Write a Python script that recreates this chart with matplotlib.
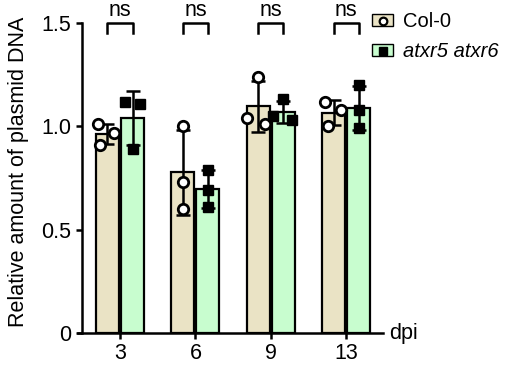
import matplotlib
matplotlib.use("Agg")
import matplotlib.pyplot as plt
import numpy as np
from matplotlib.patches import Patch
from matplotlib.lines import Line2D

# -------------------------------
# Data
# -------------------------------
days = ["3", "6", "9", "13"]
col0_points = [
    [1.01, 0.97, 0.91],
    [1.00, 0.73, 0.60],
    [1.24, 1.04, 1.01],
    [1.12, 1.08, 1.00],
]
atxr_points = [
    [1.12, 1.11, 0.89],
    [0.79, 0.69, 0.61],
    [1.13, 1.05, 1.03],
    [1.20, 1.08, 0.99],
]
# horizontal spread of the dots inside each bar (as in the figure)
col0_jitter = [[-0.12, 0.09, -0.10], [0, 0, 0], [0.0, -0.15, 0.09], [-0.11, 0.09, -0.07]]
atxr_jitter = [[-0.10, 0.10, 0.0], [0, 0, 0], [0.0, -0.14, 0.11], [0, 0, 0]]
sig_labels = ["ns", "ns", "ns", "ns"]

tan = "#EAE3C5"
green = "#C8FDCF"
FS = 15.5

plt.rcParams["font.family"] = ["Liberation Sans", "DejaVu Sans"]

fig = plt.figure(figsize=(5.11, 3.68), dpi=100)
ax = fig.add_axes([0.1526, 0.0951, 0.597, 0.8424])

x = np.arange(len(days))
off = 0.166
w = 0.305

col0_mean = [np.mean(p) for p in col0_points]
atxr_mean = [np.mean(p) for p in atxr_points]
col0_sd = [np.std(p, ddof=1) for p in col0_points]
atxr_sd = [np.std(p, ddof=1) for p in atxr_points]

ax.bar(x - off, col0_mean, w, color=tan, edgecolor="black", linewidth=1.6, zorder=1)
ax.bar(x + off, atxr_mean, w, color=green, edgecolor="black", linewidth=1.6, zorder=1)

ax.errorbar(x - off, col0_mean, yerr=col0_sd, fmt="none", ecolor="black",
            elinewidth=1.8, capsize=5, capthick=1.8, zorder=3)
ax.errorbar(x + off, atxr_mean, yerr=atxr_sd, fmt="none", ecolor="black",
            elinewidth=1.8, capsize=5, capthick=1.8, zorder=3)

for i in range(len(days)):
    ax.plot(x[i] - off + np.array(col0_jitter[i]), col0_points[i], "o", ms=7.5,
            mfc="white", mec="black", mew=2.0, ls="none", zorder=4, clip_on=False)
    ax.plot(x[i] + off + np.array(atxr_jitter[i]), atxr_points[i], "s", ms=7,
            mfc="black", mec="black", ls="none", zorder=4, clip_on=False)

# ns brackets
for i, lab in enumerate(sig_labels):
    ax.plot([x[i] - off, x[i] - off, x[i] + off, x[i] + off], [1.45, 1.5, 1.5, 1.45],
            color="black", lw=1.8, clip_on=False)
    ax.text(x[i], 1.51, lab, ha="center", va="bottom", fontsize=FS, clip_on=False)

ax.set_xlim(-0.557, 3.488)
ax.set_ylim(0, 1.5)
ax.spines["left"].set_position(("data", -0.51))
ax.spines["top"].set_visible(False)
ax.spines["right"].set_visible(False)
for s in ["left", "bottom"]:
    ax.spines[s].set_linewidth(1.8)

ax.set_xticks(x)
ax.set_xticklabels(days, fontsize=FS)
ax.set_yticks([0, 0.5, 1.0, 1.5])
ax.set_yticklabels(["0", "0.5", "1.0", "1.5"], fontsize=FS)
ax.tick_params(axis="both", width=1.8, length=4.5, pad=3)
ax.set_ylabel("Relative amount of plasmid DNA", fontsize=FS)
ax.yaxis.set_label_coords(-0.16, 0.52)
ax.text(1.02, 0, "dpi", transform=ax.transAxes, ha="left", va="center", fontsize=FS)

h1 = (Patch(facecolor=tan, edgecolor="black", lw=1.0),
      Line2D([], [], marker="o", ms=5.5, mfc="white", mec="black", mew=1.6, ls="none"))
h2 = (Patch(facecolor=green, edgecolor="black", lw=1.0),
      Line2D([], [], marker="s", ms=5.5, mfc="black", mec="black", ls="none"))
leg = fig.legend([h1, h2], ["Col-0", "atxr5 atxr6"], loc="upper left",
                 bbox_to_anchor=(372 / 511, 1 - 12 / 368), frameon=False, fontsize=14.5,
                 borderpad=0, borderaxespad=0, handlelength=1.05, handleheight=0.5,
                 handletextpad=0.5, labelspacing=0.55)
leg.get_texts()[1].set_style("italic")

fig.savefig("out.png", dpi=100)
